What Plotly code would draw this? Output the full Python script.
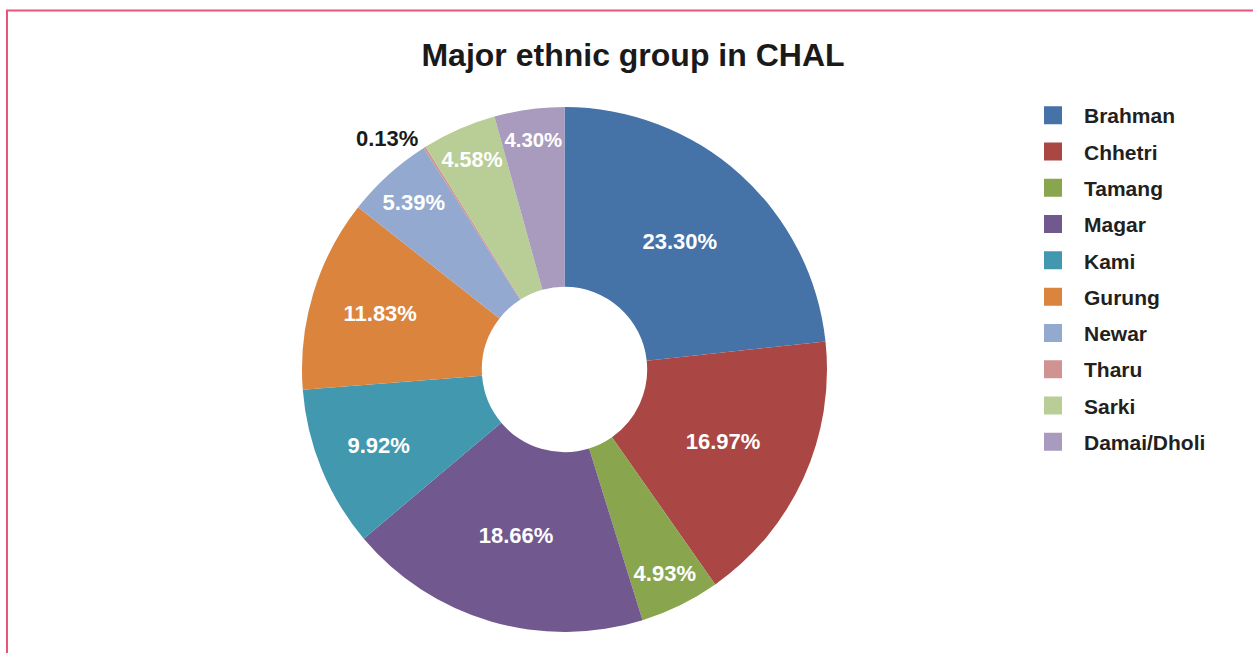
import plotly.graph_objects as go

# data
groups = ["Brahman", "Chhetri", "Tamang", "Magar", "Kami",
          "Gurung", "Newar", "Tharu", "Sarki", "Damai/Dholi"]
shares = [23.30, 16.97, 4.93, 18.66, 9.92, 11.83, 5.39, 0.13, 4.58, 4.30]
colors = ["#4572A7", "#AA4643", "#89A54E", "#71588F", "#4198AF",
          "#DB843D", "#93A9CF", "#D19392", "#B9CD96", "#A99BBD"]

W, H = 1253, 653
FONT = "Liberation Sans, Arial, sans-serif"

# small slices get their label outside
positions = ["outside" if v < 1 else "inside" for v in shares]

fig = go.Figure()
fig.add_trace(go.Pie(
    labels=groups,
    values=shares,
    marker=dict(colors=colors, line=dict(width=0)),
    hole=0.315,
    sort=False,
    direction="clockwise",
    rotation=0,
    texttemplate="%{value:.2f}%",
    textposition=positions,
    insidetextorientation="horizontal",
    insidetextfont=dict(family=FONT, size=22, color="white", weight="bold"),
    outsidetextfont=dict(family=FONT, size=22, color="#1a1a1a", weight="bold"),
    showlegend=False,
    hoverinfo="label+percent",
    domain=dict(x=[302 / W, 827 / W], y=[1 - 633 / H, 1 - 106 / H]),
))

# legend entries as empty marker traces so the row spacing can be set
for name, col in zip(groups, colors):
    fig.add_trace(go.Scatter(
        x=[None], y=[None], mode="markers", name=name, legendgroup=name,
        marker=dict(symbol="square", size=16, color=col,
                    line=dict(color=col, width=2)),
    ))

fig.update_layout(
    width=W, height=H,
    margin=dict(l=0, r=0, t=0, b=0),
    paper_bgcolor="white",
    plot_bgcolor="white",
    title=dict(text="<b>Major ethnic group in CHAL</b>", x=633 / W, y=1 - 55 / H,
               xanchor="center", yanchor="middle",
               font=dict(family=FONT, size=32, color="#1a1a1a")),
    legend=dict(x=1022 / W, y=1 - 95 / H, xanchor="left", yanchor="top",
                tracegroupgap=6, itemwidth=52,
                font=dict(family=FONT, size=21, color="#231f20", weight="bold")),
    xaxis=dict(visible=False),
    yaxis=dict(visible=False),
    shapes=[dict(type="rect", xref="paper", yref="paper",
                 x0=7 / W, x1=1.02, y0=-0.05, y1=1 - 10.5 / H,
                 line=dict(color="#E8557A", width=2))],
)

# drop the default page margin so the figure sits at the window corner
fig.write_html("out.html", config={"displayModeBar": False},
               post_script="document.body.style.margin='0px';")
